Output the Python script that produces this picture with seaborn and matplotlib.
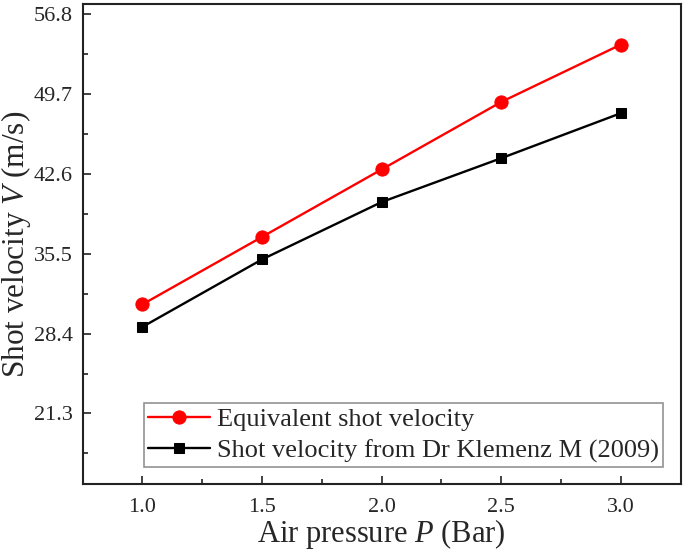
import numpy as np
import pandas as pd
import matplotlib
matplotlib.use('Agg')
import matplotlib.pyplot as plt
from matplotlib.ticker import MultipleLocator, FixedLocator
import seaborn as sns

# values
pressure = [1.0, 1.5, 2.0, 2.5, 3.0]
equiv_velocity = [31.0, 37.0, 43.0, 49.0, 54.1]
klemenz_velocity = [29.0, 35.0, 40.1, 44.0, 48.0]
y_ticks = [21.3, 28.4, 35.5, 42.6, 49.7, 56.8]
x_ticks = [1.0, 1.5, 2.0, 2.5, 3.0]

sns.set_style('ticks')
plt.rcParams['font.family'] = ['Liberation Serif', 'DejaVu Serif']
plt.rcParams['mathtext.fontset'] = 'custom'
plt.rcParams['mathtext.rm'] = 'Liberation Serif'
plt.rcParams['mathtext.it'] = 'Liberation Serif:italic'

df_eq = pd.DataFrame({'P': pressure, 'V': equiv_velocity})
df_kl = pd.DataFrame({'P': pressure, 'V': klemenz_velocity})

fig = plt.figure(figsize=(6.85, 5.52), dpi=100)
ax = fig.add_axes([0.1207, 0.1226, 0.873, 0.870])

sns.lineplot(data=df_eq, x='P', y='V', ax=ax, color='red', lw=1.7,
             marker='o', markersize=9.5, markeredgecolor='red',
             label='Equivalent shot velocity')
sns.lineplot(data=df_kl, x='P', y='V', ax=ax, color='black', lw=1.7,
             marker='s', markersize=7.7, markeredgecolor='black',
             label='Shot velocity from Dr Klemenz M (2009)')

ax.set_xlim(0.75, 3.25)
ax.set_ylim(15.0, 57.7)
ax.xaxis.set_major_locator(FixedLocator(x_ticks))
ax.xaxis.set_minor_locator(MultipleLocator(0.25))
ax.yaxis.set_major_locator(FixedLocator(y_ticks))
ax.yaxis.set_minor_locator(FixedLocator([v - 3.55 for v in y_ticks]))
ax.set_xticklabels([f'{v:.1f}' for v in x_ticks])
ax.set_yticklabels([f'{v:.1f}' for v in y_ticks])

ax.tick_params(which='both', direction='in', width=1.2, labelsize=16,
               top=False, right=False, color='#222222')
ax.tick_params(which='major', length=5.8)
ax.tick_params(which='minor', length=3.4)
ax.tick_params(axis='x', pad=10)
ax.tick_params(axis='y', pad=7)
for s in ax.spines.values():
    s.set_linewidth(1.5)
    s.set_color('#222222')

ax.set_xlabel('Air pressure $\\mathit{P}$ (Bar)', fontsize=22, labelpad=0)
ax.set_ylabel('Shot velocity $\\mathit{V}$ (m/s)', fontsize=22.5, labelpad=1)

leg = ax.legend(loc='lower left', bbox_to_anchor=(0.1025, 0.037), fontsize=19,
                frameon=True, fancybox=False, edgecolor='#777777',
                borderpad=0.15, labelspacing=0.3, handlelength=2.35,
                handletextpad=0.25, borderaxespad=0)
leg.get_frame().set_linewidth(1.2)

fig.savefig('out.png', dpi=100)
